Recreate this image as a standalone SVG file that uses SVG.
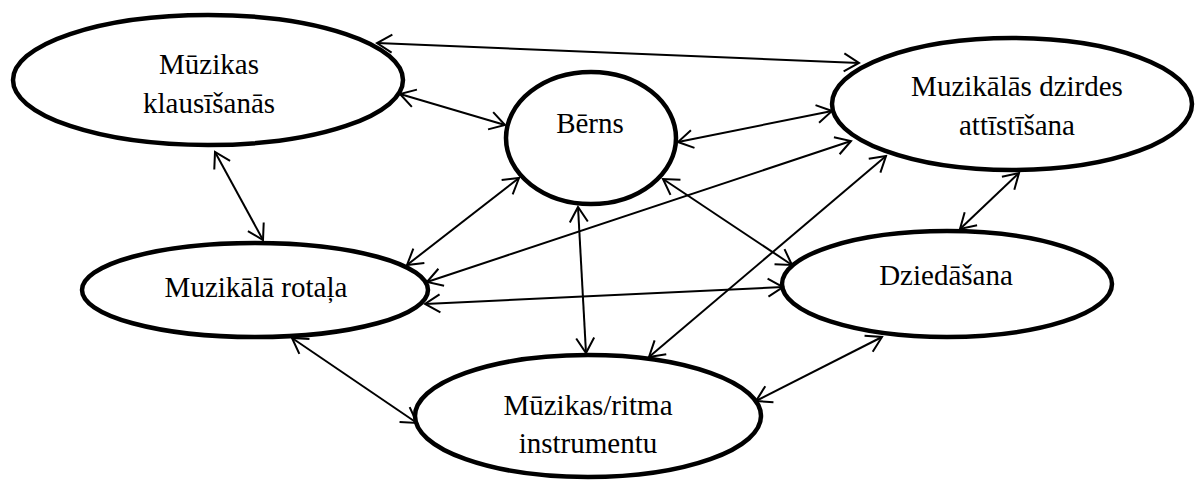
<svg xmlns="http://www.w3.org/2000/svg" width="1195" height="482" viewBox="0 0 1195 482">
<style>
.node{fill:#fff;stroke:#000;stroke-width:4.5}
.lbl{font-family:"Liberation Serif","Times New Roman",serif;font-size:29px;fill:#000;text-anchor:middle}
.con{stroke:#000;stroke-width:2;fill:none;marker-start:url(#ah);marker-end:url(#ah)}
</style>
<defs>
<marker id="ah" markerUnits="userSpaceOnUse" viewBox="-18 -12 20 24" refX="0" refY="0" markerWidth="20" markerHeight="24" orient="auto-start-reverse" overflow="visible">
<path d="M-15,-9 L0,0 L-15,9" fill="none" stroke="#000" stroke-width="2"/>
</marker>
</defs>
<rect width="1195" height="482" fill="#fff"/>
<g id="n1"><ellipse class="node" cx="208" cy="80" rx="195" ry="65"/><text class="lbl" x="209" y="74">Mūzikas</text><text class="lbl" x="209" y="113">klausīšanās</text></g>
<g id="n2"><ellipse class="node" cx="591" cy="138" rx="85" ry="66"/><text class="lbl" x="590" y="133">Bērns</text></g>
<g id="n3"><ellipse class="node" cx="1012" cy="104" rx="180" ry="66"/><text class="lbl" x="1017" y="96">Muzikālās dzirdes</text><text class="lbl" x="1017" y="135">attīstīšana</text></g>
<g id="n4"><ellipse class="node" cx="255" cy="290" rx="173" ry="47"/><text class="lbl" x="256" y="297">Muzikālā rotaļa</text></g>
<g id="n5"><ellipse class="node" cx="947" cy="284" rx="165" ry="53"/><text class="lbl" x="946" y="285">Dziedāšana</text></g>
<g id="n6"><ellipse class="node" cx="588" cy="416" rx="173" ry="61"/><text class="lbl" x="588" y="415">Mūzikas/ritma</text><text class="lbl" x="588" y="453">instrumentu</text></g>
<g id="connectors">
<line class="con" x1="377" y1="43" x2="859" y2="63"/>
<line class="con" x1="400" y1="94" x2="505" y2="125"/>
<line class="con" x1="215" y1="152" x2="263" y2="240"/>
<line class="con" x1="678" y1="142" x2="832" y2="111"/>
<line class="con" x1="519" y1="178" x2="407" y2="265"/>
<line class="con" x1="427" y1="282" x2="851" y2="141"/>
<line class="con" x1="578" y1="207" x2="586" y2="353"/>
<line class="con" x1="663" y1="179" x2="792" y2="265"/>
<line class="con" x1="886" y1="156" x2="649" y2="357"/>
<line class="con" x1="425" y1="304" x2="783" y2="287"/>
<line class="con" x1="292" y1="338" x2="417" y2="423"/>
<line class="con" x1="882" y1="337" x2="756" y2="401"/>
<line class="con" x1="1019" y1="173" x2="960" y2="229"/>
</g>
</svg>
